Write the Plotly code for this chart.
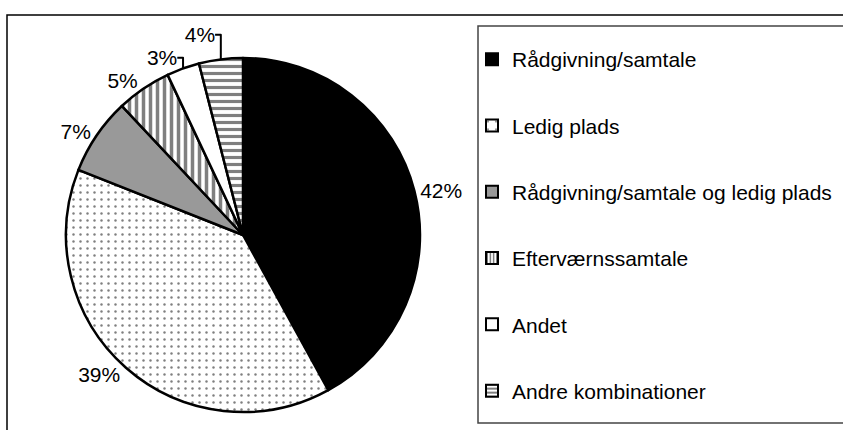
import plotly.graph_objects as go

# Data
kategorier = ['Rådgivning/samtale', 'Ledig plads', 'Rådgivning/samtale og ledig plads',
              'Efterværnssamtale', 'Andet', 'Andre kombinationer']
andele = [42, 39, 7, 5, 3, 4]

# styling per slice
farver = ['#000000', '#ffffff', '#999999', '#ffffff', '#ffffff', '#ffffff']
moenstre = ['', '.', '', '|', '', '-']
moenster_str = [0.3, 0.1, 0.3, 0.5, 0.3, 0.45]
moenster_stoerrelse = [8, 7, 8, 7, 8, 7]
# legend swatch patterns
leg_str = [0.3, 0.06, 0.3, 0.5, 0.3, 0.5]
leg_stoerrelse = [8, 10, 8, 4, 8, 5]

FONT = 'Liberation Sans, Arial, sans-serif'
B, H = 843, 430

fig = go.Figure()

fig.add_trace(go.Pie(
    labels=kategorier,
    values=andele,
    sort=False,
    direction='clockwise',
    rotation=0,
    texttemplate='%{percent:.0%}',
    textposition='outside',
    textfont=dict(family=FONT, size=21, color='black'),
    marker=dict(
        colors=farver,
        line=dict(color='black', width=2.5),
        pattern=dict(shape=moenstre, fgcolor='black', bgcolor=farver,
                     solidity=moenster_str, size=moenster_stoerrelse, fillmode='overlay'),
    ),
    domain=dict(x=[66 / B, 420 / B], y=[18 / H, 372 / H]),
    showlegend=False,
    hoverinfo='label+percent',
))

# legend entries (one trace each, so spacing can be set)
for i, navn in enumerate(kategorier):
    fig.add_trace(go.Bar(
        x=[None], y=[None], name=navn,
        legendgroup=navn,
        marker=dict(
            color=farver[i],
            line=dict(color='black', width=2),
            pattern=dict(shape=moenstre[i], fgcolor='black', bgcolor=farver[i],
                         solidity=leg_str[i], size=leg_stoerrelse[i], fillmode='overlay'),
        ),
    ))

fig.update_xaxes(visible=False)
fig.update_yaxes(visible=False)

# frames
fig.add_shape(type='rect', xref='paper', yref='paper',
              x0=7 / B, x1=1.05, y0=-0.05, y1=1 - 15 / H,
              line=dict(color='black', width=1.5), layer='below')
fig.add_shape(type='rect', xref='paper', yref='paper',
              x0=478 / B, x1=1.05, y0=1 - 423 / H, y1=1 - 26 / H,
              line=dict(color='#444444', width=1.5), layer='below')

fig.update_layout(
    width=B,
    height=H,
    margin=dict(l=0, r=0, t=0, b=0, autoexpand=False),
    paper_bgcolor='white',
    plot_bgcolor='white',
    font=dict(family=FONT, size=21, color='black'),
    legend=dict(
        x=472 / B, xanchor='left',
        y=1 - 39 / H, yanchor='top',
        tracegroupgap=36,
        font=dict(family=FONT, size=21, color='black'),
        bgcolor='rgba(0,0,0,0)',
    ),
)

fig.write_html("out.html", config={'displayModeBar': False},
               post_script="document.body.style.margin='0';")
